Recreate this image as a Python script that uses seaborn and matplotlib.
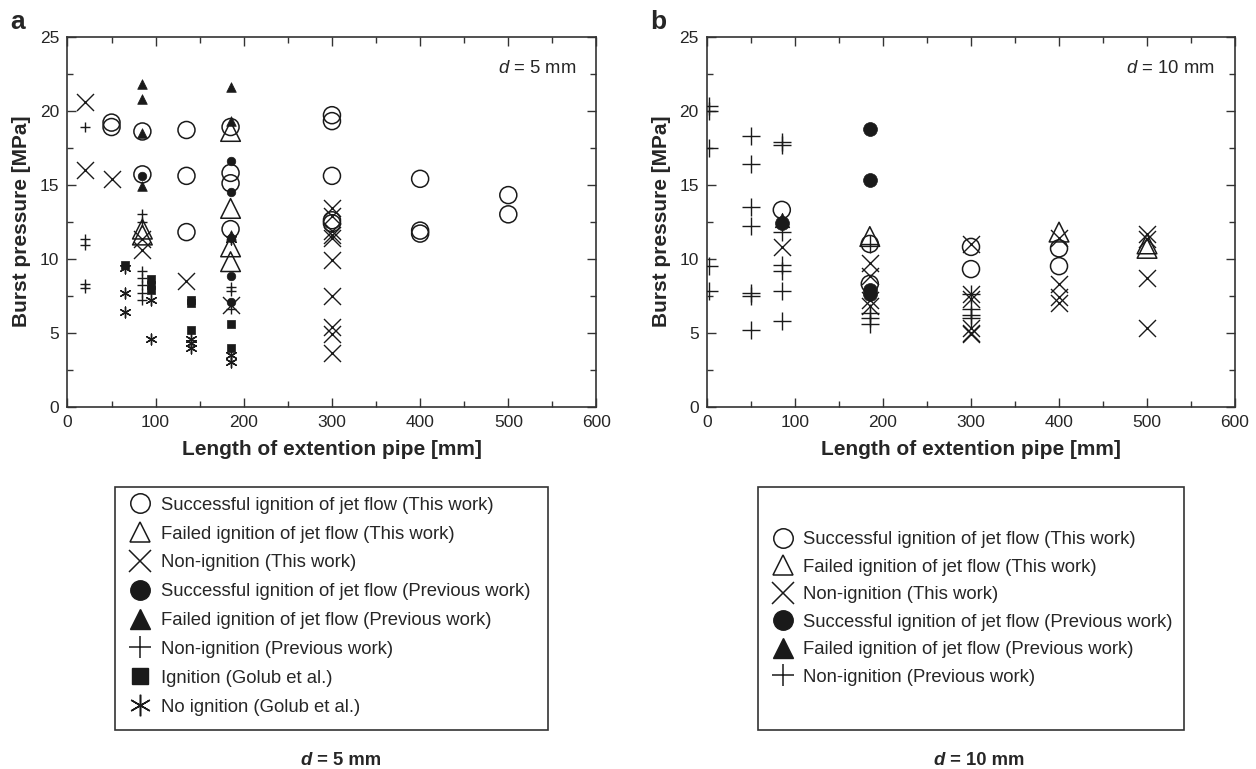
import matplotlib
matplotlib.use("Agg")
from matplotlib import pyplot as plt
from matplotlib.lines import Line2D
from matplotlib.patches import Rectangle
from matplotlib.ticker import MultipleLocator
import pandas as pd
import seaborn as sns

# ---- data, panel a (d = 5 mm) ----
a_this_ok_x = [50, 50, 85, 85, 135, 135, 135, 185, 185, 185, 185, 300, 300, 300, 300, 300, 400, 400, 400, 500, 500]
a_this_ok_y = [19.2, 18.9, 18.6, 15.7, 18.7, 15.6, 11.8, 18.9, 15.8, 15.1, 12.0, 19.7, 19.3, 15.6, 12.6, 12.4, 15.4, 11.9, 11.7, 14.3, 13.0]
a_this_fail_x = [85, 85, 185, 185, 185, 185]
a_this_fail_y = [12.0, 11.6, 18.6, 13.4, 10.8, 9.8]
a_this_non_x = [20, 20, 50, 85, 85, 135, 185, 300, 300, 300, 300, 300, 300, 300, 300, 300, 300]
a_this_non_y = [20.6, 16.0, 15.4, 11.3, 10.6, 8.5, 6.9, 13.4, 12.9, 11.9, 11.6, 11.4, 9.9, 7.5, 5.4, 4.9, 3.6]
a_prev_ok_x = [85, 185, 185, 185, 185, 185]
a_prev_ok_y = [15.6, 16.6, 14.5, 11.4, 8.8, 7.1]
a_prev_fail_x = [85, 85, 85, 85, 185, 185, 185]
a_prev_fail_y = [21.8, 20.8, 18.5, 14.9, 21.6, 19.3, 11.6]
a_prev_non_x = [20, 20, 20, 20, 20, 85, 85, 85, 85, 85, 85, 85, 185, 185, 185]
a_prev_non_y = [18.9, 11.3, 10.9, 8.3, 8.0, 13.0, 12.5, 9.2, 8.7, 8.2, 7.7, 7.2, 8.1, 7.8, 6.6]
a_golub_ign_x = [65, 95, 95, 95, 140, 140, 140, 185, 185]
a_golub_ign_y = [9.6, 8.6, 8.2, 7.9, 7.2, 7.0, 5.2, 5.6, 4.0]
a_golub_no_x = [65, 65, 65, 95, 95, 140, 140, 140, 185, 185, 185]
a_golub_no_y = [9.4, 7.7, 6.4, 7.2, 4.6, 4.6, 4.3, 4.0, 11.3, 3.5, 3.0]

# ---- data, panel b (d = 10 mm) ----
b_this_ok_x = [85, 185, 185, 300, 300, 400, 400]
b_this_ok_y = [13.3, 11.0, 8.3, 10.8, 9.3, 10.7, 9.5]
b_this_fail_x = [185, 400, 500, 500]
b_this_fail_y = [11.5, 11.8, 11.0, 10.7]
b_this_non_x = [85, 185, 185, 185, 185, 300, 300, 300, 300, 300, 300, 400, 400, 400, 400, 500, 500, 500, 500]
b_this_non_y = [10.8, 9.7, 8.8, 7.2, 6.8, 11.0, 7.6, 7.3, 5.3, 5.0, 4.9, 11.4, 8.3, 7.4, 7.0, 11.7, 11.3, 8.7, 5.3]
b_prev_ok_x = [85, 185, 185, 185, 185]
b_prev_ok_y = [12.4, 18.8, 15.3, 7.9, 7.6]
b_prev_fail_x = [85]
b_prev_fail_y = [12.6]
b_prev_non_x = [2, 2, 2, 2, 2, 50, 50, 50, 50, 50, 50, 50, 85, 85, 85, 85, 85, 85, 85, 185, 185, 185, 185, 300, 300, 300, 300]
b_prev_non_y = [20.3, 20.0, 17.5, 9.5, 7.8, 18.3, 16.4, 13.5, 12.2, 7.7, 7.5, 5.2, 17.9, 17.7, 11.8, 9.6, 9.2, 7.8, 5.8, 11.0, 6.3, 6.0, 5.6, 7.6, 6.6, 6.2, 6.0]

labels = ["Successful ignition of jet flow (This work)",
          "Failed ignition of jet flow (This work)",
          "Non-ignition (This work)",
          "Successful ignition of jet flow (Previous work)",
          "Failed ignition of jet flow (Previous work)",
          "Non-ignition (Previous work)",
          "Ignition (Golub et al.)",
          "No ignition (Golub et al.)"]

# marker, kind (hollow / filled / line)
STYLES = [("o", "hollow"), ("^", "hollow"), ("x", "line"), ("o", "filled"),
          ("^", "filled"), ("+", "line"), ("s", "filled"), ((6, 2, 0), "line")]
INK = "#1a1a1a"

sns.set_style("ticks")
plt.rcParams["font.family"] = ["Liberation Sans", "DejaVu Sans"]
plt.rcParams["mathtext.fontset"] = "custom"
plt.rcParams["mathtext.it"] = "Liberation Sans:italic"
plt.rcParams["mathtext.rm"] = "Liberation Sans"


def draw(ax, xs, ys, idx, size):
    marker, kind = STYLES[idx]
    df = pd.DataFrame({"x": xs, "y": ys})
    if kind == "hollow":
        sns.scatterplot(data=df, x="x", y="y", ax=ax, marker=marker, s=size,
                        facecolor="none", edgecolor=INK, linewidth=1.1, legend=False, zorder=3)
    elif kind == "filled":
        sns.scatterplot(data=df, x="x", y="y", ax=ax, marker=marker, s=size,
                        color=INK, edgecolor=INK, linewidth=0.5, legend=False, zorder=3)
    else:
        sns.scatterplot(data=df, x="x", y="y", ax=ax, marker=marker, s=size,
                        color=INK, linewidth=1.0, legend=False, zorder=3)


def style_axes(ax, note):
    ax.set_xlim(0, 600)
    ax.set_ylim(0, 25)
    ax.xaxis.set_major_locator(MultipleLocator(100))
    ax.xaxis.set_minor_locator(MultipleLocator(50))
    ax.yaxis.set_major_locator(MultipleLocator(5))
    ax.yaxis.set_minor_locator(MultipleLocator(2.5))
    ax.tick_params(which="both", direction="in", top=True, right=True, width=1.0,
                   color="#333333", labelsize=12.5, pad=6)
    ax.tick_params(which="major", length=6.5)
    ax.tick_params(which="minor", length=4)
    for sp in ax.spines.values():
        sp.set_linewidth(1.2)
        sp.set_color("#333333")
    ax.set_xlabel("Length of extention pipe [mm]", fontsize=15, fontweight="bold", labelpad=7)
    ax.set_ylabel("Burst pressure [MPa]", fontsize=15, fontweight="bold", labelpad=6)
    ax.text(0.962, 0.915, note, transform=ax.transAxes, ha="right", va="center", fontsize=13.3)


def legend_box(fig, x0, y0, x1, y1, n, spacing, shift):
    fig.add_artist(Rectangle((x0, y0), x1 - x0, y1 - y0, transform=fig.transFigure,
                             fill=False, edgecolor="#333333", linewidth=1.2))
    handles = []
    for marker, kind in STYLES[:n]:
        if kind == "hollow":
            h = Line2D([], [], marker=marker, linestyle="none", markersize=14,
                       markerfacecolor="none", markeredgecolor=INK, markeredgewidth=1.1)
        elif kind == "filled":
            h = Line2D([], [], marker=marker, linestyle="none", markersize=14 if marker != "s" else 11.5,
                       markerfacecolor=INK, markeredgecolor=INK)
        else:
            h = Line2D([], [], marker=marker, linestyle="none", markersize=15.5,
                       color=INK, markeredgewidth=1.1)
        handles.append(h)
    fig.legend(handles, labels[:n], loc="center left", frameon=False,
               bbox_to_anchor=(x0 + 15 / 1256, (y0 + y1) / 2 + shift), fontsize=13.3,
               handlelength=1.1, handletextpad=0.55, labelspacing=spacing,
               borderpad=0, borderaxespad=0)


fig = plt.figure(figsize=(12.56, 7.69), dpi=100)
ax_a = fig.add_axes([0.0537, 0.4711, 0.4212, 0.4811])
ax_b = fig.add_axes([0.5629, 0.4711, 0.4204, 0.4811])

# panel a: previous-work symbols are drawn smaller
draw(ax_a, a_golub_no_x, a_golub_no_y, 7, 60)
draw(ax_a, a_golub_ign_x, a_golub_ign_y, 6, 36)
draw(ax_a, a_prev_non_x, a_prev_non_y, 5, 42)
draw(ax_a, a_prev_ok_x, a_prev_ok_y, 3, 38)
draw(ax_a, a_prev_fail_x, a_prev_fail_y, 4, 48)
draw(ax_a, a_this_ok_x, a_this_ok_y, 0, 150)
draw(ax_a, a_this_fail_x, a_this_fail_y, 1, 200)
draw(ax_a, a_this_non_x, a_this_non_y, 2, 150)
style_axes(ax_a, r"$d$ = 5 mm")

draw(ax_b, b_prev_non_x, b_prev_non_y, 5, 150)
draw(ax_b, b_prev_ok_x, b_prev_ok_y, 3, 100)
draw(ax_b, b_prev_fail_x, b_prev_fail_y, 4, 110)
draw(ax_b, b_this_ok_x, b_this_ok_y, 0, 150)
draw(ax_b, b_this_fail_x, b_this_fail_y, 1, 200)
draw(ax_b, b_this_non_x, b_this_non_y, 2, 150)
style_axes(ax_b, r"$d$ = 10 mm")

fig.text(0.0085, 0.972, "a", fontsize=19, fontweight="bold", va="center")
fig.text(0.5175, 0.972, "b", fontsize=19, fontweight="bold", va="center")

legend_box(fig, 0.0916, 0.0507, 0.4363, 0.3667, 8, 0.64, 0.003)
legend_box(fig, 0.6035, 0.0507, 0.9427, 0.3667, 6, 0.57, 0.0)

# captions under the legend boxes
for cx, rest in [(0.2685, " = 5 mm"), (0.7723, " = 10 mm")]:
    fig.text(cx - 0.02, 0.011, "d", fontsize=13.3, fontweight="bold", style="italic", ha="right", va="center")
    fig.text(cx - 0.02, 0.011, rest, fontsize=13.3, fontweight="bold", ha="left", va="center")

fig.savefig("out.png", dpi=100)
